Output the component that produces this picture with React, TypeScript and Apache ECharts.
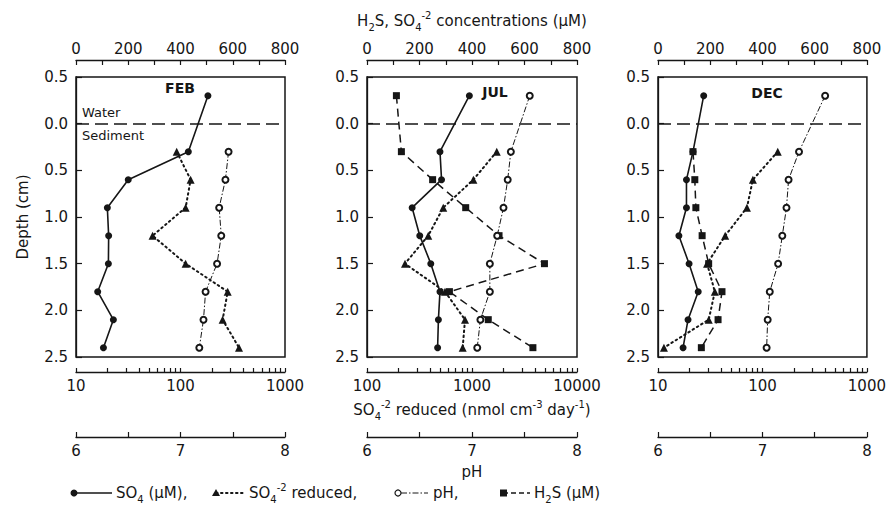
import React, { useEffect, useRef } from 'react';
import * as echarts from 'echarts';

// ---------- data ----------
const depthFull = [-0.3, 0.3, 0.6, 0.9, 1.2, 1.5, 1.8, 2.1, 2.4];
const depthSed = [0.3, 0.6, 0.9, 1.2, 1.5, 1.8, 2.1, 2.4];

const febSO4 = [505, 430, 200, 120, 125, 124, 83, 143, 105];
const febReduced = [92, 125, 112, 54, 112, 283, 253, 363];
const febPH = [7.46, 7.43, 7.37, 7.39, 7.35, 7.24, 7.22, 7.18];

const julSO4 = [390, 278, 284, 172, 201, 243, 278, 272, 269];
const julH2S = [112, 131, 250, 376, 503, 676, 314, 462, 632];
const julReduced = [1720, 1030, 532, 383, 230, 553, 858, 815];
const julPH = [7.55, 7.37, 7.34, 7.3, 7.24, 7.17, 7.17, 7.08, 7.05];

const decSO4 = [175, 134, 109, 109, 80, 119, 154, 115, 96];
const decH2S = [134, 141, 145, 169, 194, 245, 230, 166];
const decReduced = [140, 81, 71, 44, 29.5, 35, 30.6, 11.4];
const decPH = [7.6, 7.35, 7.25, 7.23, 7.19, 7.15, 7.07, 7.05, 7.04];

const interfaceDepth = 0;

const panelNames = ['FEB', 'JUL', 'DEC'];
const concTicks = [0, 100, 200, 300, 400, 500, 600, 700, 800];
const concLabels = [0, 200, 400, 600, 800];
const logTicksLow = [10, 20, 30, 40, 50, 60, 70, 80, 90, 100, 200, 300, 400, 500, 600, 700, 800, 900, 1000];
const logLabelsLow = [10, 100, 1000];
const logTicksHigh = [100, 200, 300, 400, 500, 600, 700, 800, 900, 1000, 2000, 3000, 4000, 5000, 6000, 7000, 8000, 9000, 10000];
const logLabelsHigh = [100, 1000, 10000];
const phTicks = [6, 6.5, 7, 7.5, 8];
const phLabels = [6, 7, 8];

// ---------- style ----------
const INK = '#161616';
const FONT = "'DejaVu Sans', sans-serif";
const FS = 15;
const panels = [
  { left: 76, width: 209, logMin: 10, logMax: 1000, logTicks: logTicksLow, logLabels: logLabelsLow },
  { left: 367, width: 210, logMin: 100, logMax: 10000, logTicks: logTicksHigh, logLabels: logLabelsHigh },
  { left: 658, width: 210, logMin: 10, logMax: 1000, logTicks: logTicksLow, logLabels: logLabelsLow },
];
const GRID_TOP = 77;
const GRID_H = 280;

const richSub = {
  sub: { fontSize: 10, fontFamily: FONT, color: INK, verticalAlign: 'bottom' },
  sup: { fontSize: 10, fontFamily: FONT, color: INK, verticalAlign: 'top' },
};

const zip = (xs: number[], ys: number[]) => xs.map((x, i) => [x, ys[i]]);

function buildOption() {
  const grid = panels.map((p) => ({
    left: p.left,
    top: GRID_TOP,
    width: p.width,
    height: GRID_H,
    show: true,
    borderColor: INK,
    borderWidth: 1.5,
    backgroundColor: 'transparent',
  }));

  const line = { show: true, onZero: false, lineStyle: { color: INK, width: 1.3 } };
  const lbl = { color: INK, fontFamily: FONT, fontSize: FS };
  const tickStyle = { color: INK, width: 1.2 };
  const xAxis: any[] = [];
  panels.forEach((p, i) => {
    xAxis.push({
      type: 'value', gridIndex: i, position: 'top', offset: 17, min: 0, max: 800,
      axisLine: line, splitLine: { show: false },
      axisTick: { show: true, inside: true, length: 5, customValues: concTicks, lineStyle: tickStyle },
      axisLabel: { ...lbl, margin: 4, customValues: concLabels },
      ...(i === 1
        ? {
            name: 'H{sub|2}S, SO{sub|4}{sup|-2} concentrations (µM)',
            nameLocation: 'middle', nameGap: 28,
            nameTextStyle: { ...lbl, lineHeight: 22, rich: richSub },
          }
        : {}),
    });
    xAxis.push({
      type: 'log', logBase: 10, gridIndex: i, position: 'bottom', offset: 15, min: p.logMin, max: p.logMax,
      axisLine: line, splitLine: { show: false },
      axisTick: { show: true, inside: true, length: 4, customValues: p.logTicks, lineStyle: tickStyle },
      axisLabel: { ...lbl, margin: 6, customValues: p.logLabels, formatter: (v: number) => String(Math.round(v)) },
      ...(i === 1
        ? {
            name: 'SO{sub|4}{sup|-2} reduced (nmol cm{sup|-3} day{sup|-1})',
            nameLocation: 'middle', nameGap: 27,
            nameTextStyle: { ...lbl, lineHeight: 22, rich: richSub },
          }
        : {}),
    });
    xAxis.push({
      type: 'value', gridIndex: i, position: 'bottom', offset: 80, min: 6, max: 8,
      axisLine: line, splitLine: { show: false },
      axisTick: { show: true, inside: true, length: 5, customValues: phTicks, lineStyle: tickStyle },
      axisLabel: { ...lbl, margin: 6, customValues: phLabels },
      ...(i === 1
        ? { name: 'pH', nameLocation: 'middle', nameGap: 27, nameTextStyle: { ...lbl } }
        : {}),
    });
  });

  const yAxis = panels.map((p, i) => ({
    type: 'value', gridIndex: i, inverse: true, min: -0.5, max: 2.5, interval: 0.5,
    axisLine: line, splitLine: { show: false },
    axisTick: { show: true, inside: true, length: 6, lineStyle: tickStyle },
    axisLabel: { ...lbl, margin: 8, formatter: (v: number) => Math.abs(v).toFixed(1) },
    ...(i === 0
      ? { name: 'Depth (cm)', nameLocation: 'middle', nameGap: 46, nameRotate: 90, nameTextStyle: { ...lbl, fontSize: 15 } }
      : {}),
  }));

  const dashStyle = { color: INK, type: 'dashed', dashOffset: 0, width: 1.5 };
  const so4 = (data: number[], i: number) => ({
    type: 'line', xAxisIndex: i * 3, yAxisIndex: i, data: zip(data, depthFull),
    symbol: 'circle', symbolSize: 7, itemStyle: { color: INK },
    lineStyle: { color: INK, width: 1.6 }, z: 4,
    markLine: {
      silent: true, symbol: ['none', 'none'], label: { show: false },
      lineStyle: dashStyle,
      emphasis: { disabled: true },
      data: [{ yAxis: interfaceDepth, lineStyle: { ...dashStyle, type: [13, 6] } }],
    },
  });
  const reduced = (data: number[], i: number) => ({
    type: 'line', xAxisIndex: i * 3 + 1, yAxisIndex: i, data: zip(data, depthSed),
    symbol: 'triangle', symbolSize: 8, itemStyle: { color: INK },
    lineStyle: { color: INK, width: 2, type: [1.5, 3.5], cap: 'round' }, z: 3,
  });
  const ph = (data: number[], depths: number[], i: number) => ({
    type: 'line', xAxisIndex: i * 3 + 2, yAxisIndex: i, data: zip(data, depths),
    symbol: 'emptyCircle', symbolSize: 6, itemStyle: { color: INK, borderWidth: 1.2 },
    lineStyle: { color: INK, width: 1, type: [6, 2, 1.5, 2] }, z: 5,
  });
  const h2s = (data: number[], depths: number[], i: number) => ({
    type: 'line', xAxisIndex: i * 3, yAxisIndex: i, data: zip(data, depths),
    symbol: 'rect', symbolSize: 7, itemStyle: { color: INK },
    lineStyle: { color: INK, width: 1.5, type: [8, 5] }, z: 4,
  });

  const series = [
    so4(febSO4, 0), reduced(febReduced, 0), ph(febPH, depthSed, 0),
    so4(julSO4, 1), reduced(julReduced, 1), ph(julPH, depthFull, 1), h2s(julH2S, depthFull, 1),
    so4(decSO4, 2), reduced(decReduced, 2), ph(decPH, depthFull, 2), h2s(decH2S, depthSed, 2),
  ];

  const txt = (text: string, x: number, y: number, extra: any = {}) => ({
    type: 'text', x, y, silent: true,
    style: { text, fill: INK, fontFamily: FONT, fontSize: FS, verticalAlign: 'middle', ...extra },
  });
  const LY = 493;
  const graphic: any[] = [
    txt(panelNames[0], 180, 88, { fontWeight: 'bold', align: 'center', fontSize: 14 }),
    txt(panelNames[1], 495, 92, { fontWeight: 'bold', align: 'center', fontSize: 14 }),
    txt(panelNames[2], 767, 93, { fontWeight: 'bold', align: 'center', fontSize: 14 }),
    txt('Water', 82, 112, { fontSize: 13 }),
    txt('Sediment', 82, 135, { fontSize: 13 }),
    // legend
    { type: 'line', silent: true, shape: { x1: 74, y1: LY, x2: 112, y2: LY }, style: { stroke: INK, lineWidth: 1.6 } },
    { type: 'circle', silent: true, shape: { cx: 74, cy: LY, r: 3.5 }, style: { fill: INK } },
    txt('SO{sub|4} (µM),', 116, LY, { lineHeight: 22, rich: richSub }),
    { type: 'line', silent: true, shape: { x1: 216, y1: LY, x2: 246, y2: LY }, style: { stroke: INK, lineWidth: 2, lineDash: [1.5, 3.5], lineCap: 'round' } },
    { type: 'polygon', silent: true, shape: { points: [[216, LY - 4], [212, LY + 3], [220, LY + 3]] }, style: { fill: INK } },
    txt('SO{sub|4}{sup|-2} reduced,', 249, LY, { lineHeight: 22, rich: richSub }),
    { type: 'line', silent: true, shape: { x1: 401, y1: LY, x2: 428, y2: LY }, style: { stroke: INK, lineWidth: 1, lineDash: [6, 2, 1.5, 2] } },
    { type: 'circle', silent: true, shape: { cx: 398, cy: LY, r: 3 }, style: { fill: '#fff', stroke: INK, lineWidth: 1.2 } },
    txt('pH,', 433, LY),
    { type: 'line', silent: true, shape: { x1: 503, y1: LY, x2: 530, y2: LY }, style: { stroke: INK, lineWidth: 1.5, lineDash: [5, 3] } },
    { type: 'rect', silent: true, shape: { x: 500, y: LY - 3.5, width: 7, height: 7 }, style: { fill: INK } },
    txt('H{sub|2}S (µM)', 534, LY, { lineHeight: 22, rich: richSub }),
  ];

  return {
    animation: false,
    backgroundColor: '#ffffff',
    textStyle: { fontFamily: FONT },
    grid, xAxis, yAxis, series, graphic,
  };
}

export default function App() {
  const ref = useRef<HTMLDivElement>(null);
  useEffect(() => {
    document.body.style.margin = '0';
    if (!ref.current) return;
    const chart = echarts.init(ref.current, undefined, { renderer: 'svg' });
    chart.setOption(buildOption() as any);
    return () => chart.dispose();
  }, []);
  return <div ref={ref} style={{ width: 889, height: 515 }} />;
}
